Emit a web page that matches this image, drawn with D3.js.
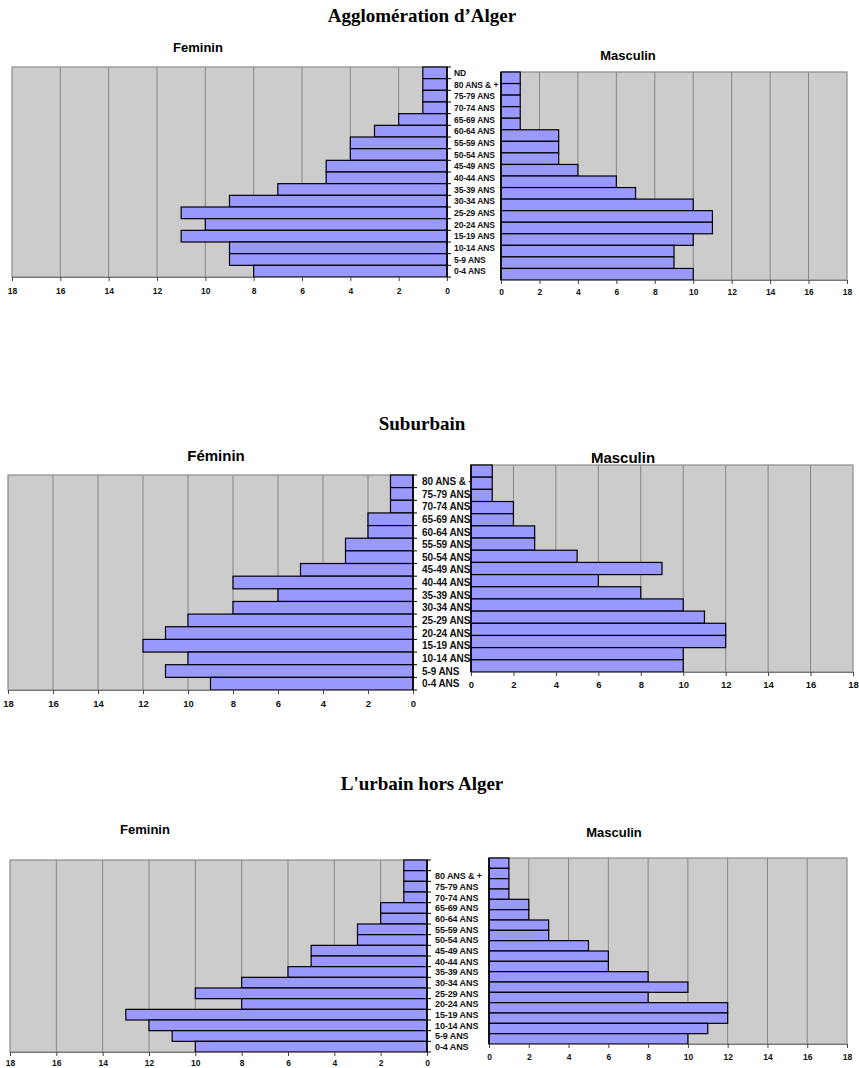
<!DOCTYPE html>
<html>
<head>
<meta charset="utf-8">
<script src="https://cdn.jsdelivr.net/npm/d3@7"></script>
<style>
  body { margin: 0; background: #fff; }
  svg { display: block; }
</style>
</head>
<body>
<div id="container"></div>
<script>
// age groups, top to bottom
const agesAlger = ["ND", "80 ANS & +", "75-79 ANS", "70-74 ANS", "65-69 ANS", "60-64 ANS", "55-59 ANS",
  "50-54 ANS", "45-49 ANS", "40-44 ANS", "35-39 ANS", "30-34 ANS", "25-29 ANS", "20-24 ANS",
  "15-19 ANS", "10-14 ANS", "5-9 ANS", "0-4 ANS"];
const agesSuburbain = agesAlger.slice(1);
const agesUrbain = [""].concat(agesAlger.slice(1));

const femAlger = [1, 1, 1, 1, 2, 3, 4, 4, 5, 5, 7, 9, 11, 10, 11, 9, 9, 8];
const mascAlger = [1, 1, 1, 1, 1, 3, 3, 3, 4, 6, 7, 10, 11, 11, 10, 9, 9, 10];

const femSuburbain = [1, 1, 1, 2, 2, 3, 3, 5, 8, 6, 8, 10, 11, 12, 10, 11, 9];
const mascSuburbain = [1, 1, 1, 2, 2, 3, 3, 5, 9, 6, 8, 10, 11, 12, 12, 10, 10];

const femUrbain = [1, 1, 1, 1, 2, 2, 3, 3, 5, 5, 6, 8, 10, 8, 13, 12, 11, 10];
const mascUrbain = [1, 1, 1, 1, 2, 2, 3, 3, 5, 6, 6, 8, 10, 8, 12, 12, 11, 10];

const xTicks = [0, 2, 4, 6, 8, 10, 12, 14, 16, 18];

const panelTitles = ["Agglomération d\u2019Alger", "Suburbain", "L'urbain hors Alger"];
const femTitles = ["Feminin", "Féminin", "Feminin"];
const mascTitles = ["Masculin", "Masculin", "Masculin"];

const W = 859, H = 1068;
const svg = d3.select("#container").append("svg")
    .attr("width", W)
    .attr("height", H);

const BG = "#cccccc", BAR = "#9999ff", GRID = "#858585";

function drawChart(g, ages, values, box, side, tickFont) {
    const x = d3.scaleLinear()
        .domain(side === "left" ? [18, 0] : [0, 18])
        .range([box.x0, box.x1]);
    const y = d3.scaleBand()
        .domain(d3.range(values.length))
        .range([box.y0, box.y1])
        .padding(0);

    g.append("rect")
        .attr("x", box.x0).attr("y", box.y0)
        .attr("width", box.x1 - box.x0).attr("height", box.y1 - box.y0)
        .attr("fill", BG)
        .attr("stroke", "#8c8c8c")
        .attr("stroke-width", 1.2);

    g.append("g")
        .selectAll("line")
        .data(xTicks.filter(t => t > 0 && t < 18))
      .enter().append("line")
        .attr("x1", d => x(d)).attr("x2", d => x(d))
        .attr("y1", box.y0).attr("y2", box.y1)
        .attr("stroke", GRID)
        .attr("stroke-width", 1);

    g.append("g")
        .selectAll("rect")
        .data(values)
      .enter().append("rect")
        .attr("x", d => Math.min(x(0), x(d)))
        .attr("y", (d, i) => y(i))
        .attr("width", d => Math.abs(x(d) - x(0)))
        .attr("height", y.bandwidth())
        .attr("fill", BAR)
        .attr("stroke", "#000")
        .attr("stroke-width", 1.2);

    // value axis
    const ax = g.append("g")
        .attr("transform", `translate(0,${box.y1})`)
        .call(d3.axisBottom(x).tickValues(xTicks).tickSize(4).tickPadding(box.pad || 6));
    ax.select(".domain").attr("stroke", "#777");
    ax.selectAll(".tick line").attr("stroke", "#444");
    ax.selectAll("text")
        .attr("font-family", "Liberation Sans, Arial, sans-serif")
        .attr("font-weight", "bold")
        .attr("font-size", tickFont)
        .attr("fill", "#111");

    // zero line
    g.append("line")
        .attr("x1", x(0)).attr("x2", x(0))
        .attr("y1", box.y0).attr("y2", box.y1)
        .attr("stroke", "#000")
        .attr("stroke-width", 1.5);

    if (side === "left") {
        // category ticks on the right edge
        const bounds = d3.range(values.length + 1).map(i => box.y0 + i * y.step());
        g.append("g")
            .selectAll("line")
            .data(bounds)
          .enter().append("line")
            .attr("x1", x(0)).attr("x2", x(0) + 4)
            .attr("y1", d => d).attr("y2", d => d)
            .attr("stroke", "#000")
            .attr("stroke-width", 1);
    }
    return y;
}

function drawPanel(p) {
    const g = svg.append("g");

    g.append("text")
        .attr("x", p.titleX).attr("y", p.titleY)
        .attr("text-anchor", "middle")
        .attr("font-family", "Liberation Serif, Times New Roman, serif")
        .attr("font-weight", "bold")
        .attr("font-size", 19)
        .text(p.title);

    g.append("text")
        .attr("x", p.femTitle.x).attr("y", p.femTitle.y)
        .attr("text-anchor", "middle")
        .attr("font-family", "Liberation Sans, Arial, sans-serif")
        .attr("font-weight", "bold")
        .attr("font-size", p.femTitle.size)
        .text(p.femLabel);

    g.append("text")
        .attr("x", p.mascTitle.x).attr("y", p.mascTitle.y)
        .attr("text-anchor", "middle")
        .attr("font-family", "Liberation Sans, Arial, sans-serif")
        .attr("font-weight", "bold")
        .attr("font-size", p.mascTitle.size)
        .text(p.mascLabel);

    const yLeft = drawChart(g, p.ages, p.fem, p.left, "left", p.tickFont);

    g.append("g")
        .selectAll("text")
        .data(p.ages)
      .enter().append("text")
        .attr("x", p.labelX)
        .attr("y", (d, i) => yLeft(i) + yLeft.bandwidth() / 2)
        .attr("dy", "0.36em")
        .attr("font-family", "Liberation Sans, Arial, sans-serif")
        .attr("font-weight", "bold")
        .attr("font-size", p.labelFont)
        .attr("letter-spacing", "-0.1px")
        .attr("fill", "#111")
        .text(d => d);

    drawChart(g, p.ages, p.masc, p.right, "right", p.tickFont);
}

drawPanel({
    title: panelTitles[0], titleX: 422, titleY: 22,
    femLabel: femTitles[0], mascLabel: mascTitles[0],
    femTitle: { x: 198, y: 52, size: 13 },
    mascTitle: { x: 628, y: 60, size: 13 },
    ages: agesAlger, fem: femAlger, masc: mascAlger,
    left: { x0: 12, x1: 447, y0: 67, y1: 277, pad: 7 },
    right: { x0: 501, x1: 847, y0: 72, y1: 280, pad: 5 },
    labelX: 454, labelFont: 8.5, tickFont: 8.5
});

drawPanel({
    title: panelTitles[1], titleX: 422, titleY: 430,
    femLabel: femTitles[1], mascLabel: mascTitles[1],
    femTitle: { x: 216, y: 461, size: 15 },
    mascTitle: { x: 623, y: 463, size: 15 },
    ages: agesSuburbain, fem: femSuburbain, masc: mascSuburbain,
    left: { x0: 8, x1: 413, y0: 475, y1: 690, pad: 6 },
    right: { x0: 471, x1: 853, y0: 465, y1: 672, pad: 5 },
    labelX: 422, labelFont: 10, tickFont: 9.5
});

drawPanel({
    title: panelTitles[2], titleX: 422, titleY: 790,
    femLabel: femTitles[2], mascLabel: mascTitles[2],
    femTitle: { x: 145, y: 834, size: 13 },
    mascTitle: { x: 614, y: 837, size: 13 },
    ages: agesUrbain, fem: femUrbain, masc: mascUrbain,
    left: { x0: 10, x1: 427, y0: 860, y1: 1052, pad: 4 },
    right: { x0: 489, x1: 847, y0: 858, y1: 1044, pad: 6 },
    labelX: 435, labelFont: 9, tickFont: 8.5
});
</script>
</body>
</html>
